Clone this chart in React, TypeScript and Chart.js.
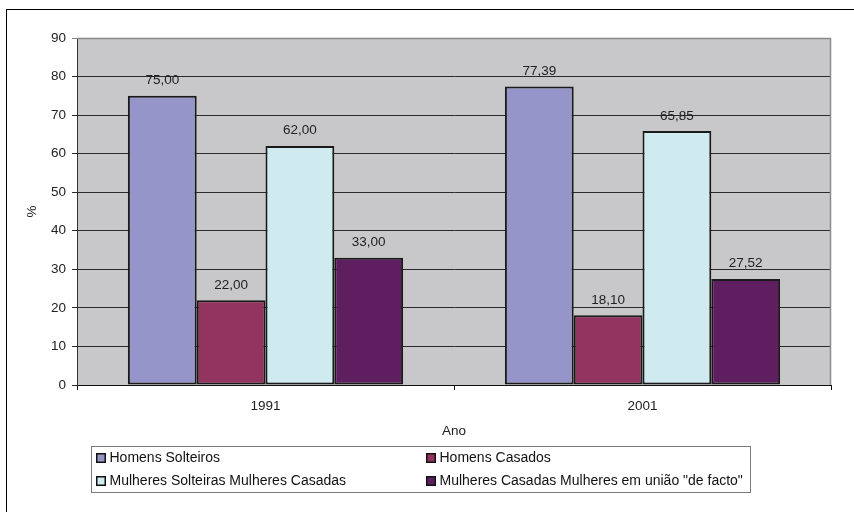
import { useEffect, useRef } from "react";
import { Chart, registerables } from "chart.js";

Chart.register(...registerables);

// Marital status share by census year (%)
const categories = ["1991", "2001"];
const seriesNames = [
  "Homens Solteiros",
  "Homens Casados",
  "Mulheres Solteiras Mulheres Casadas",
  'Mulheres Casadas Mulheres em união "de facto"',
];
const homensSolteiros = [75.0, 77.39];
const homensCasados = [22.0, 18.1];
const mulheresSolteiras = [62.0, 65.85];
const mulheresCasadas = [33.0, 27.52];
const yTicks = [0, 10, 20, 30, 40, 50, 60, 70, 80, 90];

const seriesColors = ["#9595C9", "#93335F", "#CFEBF0", "#5F1E5F"];
const FONT = '"Liberation Sans", Arial, sans-serif';

const fmt = (v: number) => v.toFixed(2).replace(".", ",");

// Grey plot background, frame, value labels and the boxed legend
const decorations = {
  id: "decorations",
  beforeDraw(chart: any) {
    const { ctx, chartArea: a } = chart;
    ctx.save();
    ctx.fillStyle = "#FFFFFF";
    ctx.fillRect(0, 0, chart.width, chart.height);
    ctx.strokeStyle = "#000000";
    ctx.lineWidth = 1;
    ctx.strokeRect(6.5, 9.5, chart.width + 20, chart.height + 20);
    ctx.fillStyle = "#C8C8CA";
    ctx.fillRect(a.left, a.top, a.right - a.left, a.bottom - a.top);
    ctx.restore();
  },
  beforeDatasetsDraw(chart: any) {
    const { ctx, chartArea: a } = chart;
    ctx.save();
    ctx.strokeStyle = "#8A8A8A";
    ctx.lineWidth = 1.5;
    ctx.beginPath();
    ctx.moveTo(a.left, a.top + 0.5);
    ctx.lineTo(a.right - 0.5, a.top + 0.5);
    ctx.lineTo(a.right - 0.5, a.bottom);
    ctx.stroke();
    ctx.restore();
  },
  afterDatasetsDraw(chart: any) {
    const { ctx } = chart;
    ctx.save();
    ctx.font = `13.5px ${FONT}`;
    ctx.fillStyle = "#222222";
    ctx.textAlign = "center";
    ctx.textBaseline = "alphabetic";
    chart.data.datasets.forEach((ds: any, i: number) => {
      const meta = chart.getDatasetMeta(i);
      meta.data.forEach((bar: any, j: number) => {
        ctx.fillText(fmt(ds.data[j]), bar.x, bar.y - 11.5);
      });
    });

    // legend box
    const box = { x: 91.5, y: 446.5, w: 659, h: 46 };
    ctx.strokeStyle = "#7A7A7A";
    ctx.lineWidth = 1;
    ctx.strokeRect(box.x, box.y, box.w, box.h);
    const cols = [96, 426];
    const rows = [458, 481];
    ctx.font = `14px ${FONT}`;
    ctx.textAlign = "left";
    ctx.textBaseline = "middle";
    chart.data.datasets.forEach((ds: any, i: number) => {
      const x = cols[i % 2];
      const y = rows[Math.floor(i / 2)];
      ctx.fillStyle = ds.backgroundColor;
      ctx.fillRect(x, y - 5, 10, 10);
      ctx.strokeStyle = "#111111";
      ctx.lineWidth = 1.5;
      ctx.strokeRect(x + 0.75, y - 4.25, 8.5, 8.5);
      ctx.fillStyle = "#111111";
      ctx.fillText(ds.label, x + 13.5, y + 0.5);
    });
    ctx.restore();
  },
};

export default function App() {
  const canvasRef = useRef<HTMLCanvasElement | null>(null);

  useEffect(() => {
    document.body.style.margin = "0";
    const canvas = canvasRef.current;
    if (!canvas) return;
    const values = [homensSolteiros, homensCasados, mulheresSolteiras, mulheresCasadas];
    const chart = new Chart(canvas, {
      type: "bar",
      data: {
        labels: categories,
        datasets: values.map((data, i) => ({
          label: seriesNames[i],
          data,
          backgroundColor: seriesColors[i],
          borderColor: "#1A1A1A",
          borderWidth: 2,
          borderSkipped: false,
          categoryPercentage: 0.73,
          barPercentage: 1,
        })),
      },
      options: {
        responsive: false,
        animation: false,
        events: [],
        layout: { padding: { left: 0, top: 38, right: 23, bottom: 73 } },
        plugins: {
          legend: { display: false },
          tooltip: { enabled: false },
        },
        scales: {
          x: {
            offset: true,
            afterFit: (scale: any) => {
              scale.height = 54;
            },
            grid: {
              offset: true,
              drawOnChartArea: false,
              drawTicks: true,
              tickLength: 5,
              color: "#111111",
            },
            border: { color: "#111111", width: 1 },
            ticks: {
              color: "#222222",
              padding: 8,
              font: { family: FONT, size: 13.5 },
            },
            title: {
              display: true,
              text: "Ano",
              color: "#222222",
              padding: { top: 0, bottom: 0 },
              font: { family: FONT, size: 13.5 },
            },
          },
          y: {
            min: 0,
            max: 90,
            afterFit: (scale: any) => {
              scale.width = 77;
            },
            afterBuildTicks: (scale: any) => {
              scale.ticks = yTicks.map((v) => ({ value: v }));
            },
            grid: {
              color: (c: any) => (c.tick && c.tick.value === 90 ? "#8A8A8A" : "#2A2A2A"),
              lineWidth: 1,
              drawTicks: true,
              tickLength: 5,
            },
            border: { color: "#333333", width: 1 },
            ticks: {
              color: "#222222",
              padding: 6,
              font: { family: FONT, size: 13.5 },
            },
            title: {
              display: true,
              text: "%",
              color: "#222222",
              padding: { top: 24, bottom: 0 },
              font: { family: FONT, size: 13.5 },
            },
          },
        },
      },
      plugins: [decorations],
    });
    return () => chart.destroy();
  }, []);

  return (
    <div style={{ position: "absolute", left: 0, top: 0, width: 854, height: 512 }}>
      <canvas ref={canvasRef} width={854} height={512} style={{ display: "block" }} />
    </div>
  );
}
